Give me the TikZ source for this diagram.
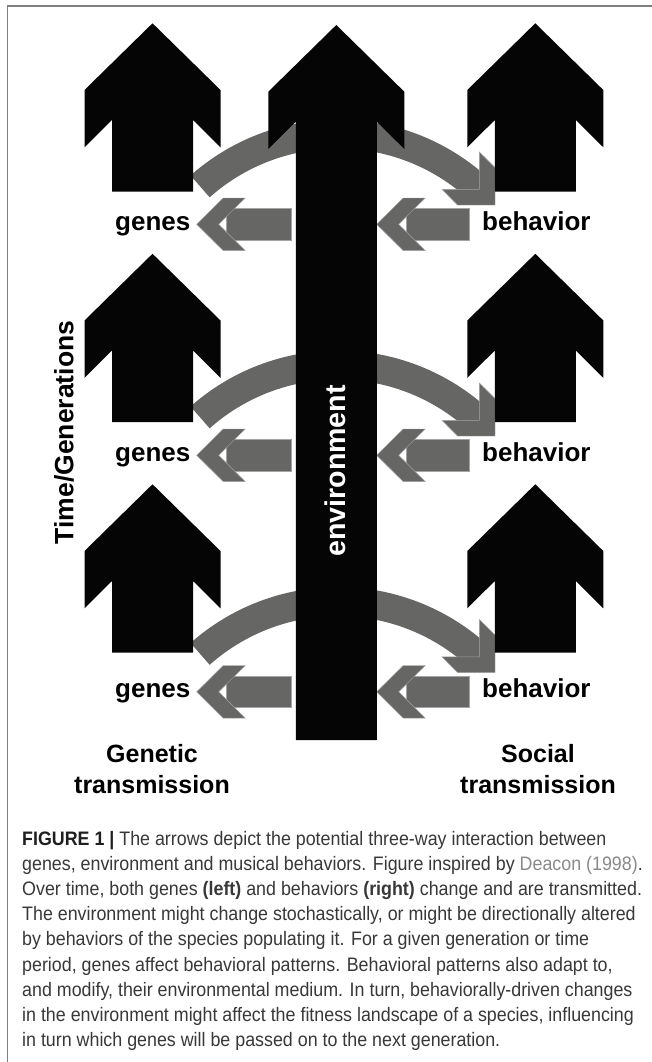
\documentclass[tikz,border=0pt]{standalone}
\usepackage{fontspec}
\setmainfont{Liberation Sans}
\newfontfamily\capfont[FakeStretch=0.915]{Liberation Sans}
\definecolor{arrowgray}{HTML}{666665}
\definecolor{edgegray}{HTML}{A4A4A4}
\definecolor{framegray}{HTML}{7F7F7F}
\definecolor{captext}{HTML}{383838}
\definecolor{linkgray}{HTML}{8A8A8A}
\definecolor{inkblack}{HTML}{050505}

% black upward block arrow: #1 name, #2 centre x, #3 tip y, #4 bottom y
\newcommand\blkarrow[4]{%
  \fill[blackfill] (#2,#3) coordinate (#1) -- ({#2+68},{#3+66.7}) -- ({#2+68},{#3+124})
    -- ({#2+40.5},{#3+96.7}) -- ({#2+40.5},#4) -- ({#2-40.5},#4) -- ({#2-40.5},{#3+96.7})
    -- ({#2-68},{#3+124}) -- ({#2-68},{#3+66.7}) -- cycle;}
% grey left-pointing arrow: #1 tip x, #2 centre y, #3 shaft end x
\newcommand\grayarr[3]{%
  \filldraw[grayfill] ({#1+30},{#2-15.8}) rectangle (#3,{#2+15.8});
  \filldraw[grayfill] (#1,#2) -- ({#1+26.5},{#2-26.3}) -- ({#1+48.5},{#2-26.3}) -- ({#1+22},#2)
    -- ({#1+48.5},{#2+26.3}) -- ({#1+26.5},{#2+26.3}) -- cycle;}
% grey curved arrow of one row: #1 vertical offset
\newcommand\curvarr[1]{%
  \draw[arrowgray, line width=29pt] plot[domain=131.6:45, samples=90, smooth]
    ({338+207.7*cos(\x)}, {341.7+#1-207.7*sin(\x)});
  \filldraw[grayfill] (495,{205+#1}) -- (457.5,{205+#1}) -- (442,{189.4+#1}) -- (479.4,{189.4+#1})
    -- (479.4,{152+#1}) -- (495,{167.5+#1}) -- cycle;}

\begin{document}
\begin{tikzpicture}[x=1pt,y=-1pt,
  blackfill/.style={fill=inkblack},
  grayfill/.style={fill=arrowgray, draw=edgegray, line width=0.45pt},
  lab/.style={font=\bfseries\fontsize{26}{30}\selectfont, inner sep=0pt, anchor=base},
  bottomlab/.style={font=\bfseries\fontsize{25}{30}\selectfont, inner sep=0pt, anchor=base},
  capline/.style={font=\capfont\fontsize{19.5}{25}\selectfont, text=captext, inner sep=0pt, anchor=base west}
]
\useasboundingbox[fill=white] (0,0) rectangle (652,1062);
\draw[framegray, line width=1.1pt] (7.3,1062) -- (7.3,6) -- (652,6);

% grey curved and straight arrows (behind the black ones)
\foreach \dy in {0,231,467.5}{
  \curvarr{\dy}
  \grayarr{196.7}{224.3+\dy}{291}
  \grayarr{376.7}{224.3+\dy}{469.3}
}

% black arrows
\blkarrow{gL1}{152.5}{23.3}{191.7}
\blkarrow{gR1}{535.3}{23.3}{191.7}
\blkarrow{gL2}{152.5}{253.8}{422.2}
\blkarrow{gR2}{535.3}{253.8}{422.2}
\blkarrow{gL3}{152.5}{484.3}{652.7}
\blkarrow{gR3}{535.3}{484.3}{652.7}
\blkarrow{envarrow}{336.3}{25}{740}

% labels
\node[lab] (genes1) at (152.8,230) {genes};
\node[lab] (beh1) at (536.4,230) {behavior};
\node[lab] (genes2) at (152.8,461) {genes};
\node[lab] (beh2) at (536.4,461) {behavior};
\node[lab] (genes3) at (152.8,697.5) {genes};
\node[lab] (beh3) at (536.4,697.5) {behavior};

\node[font=\bfseries\fontsize{26.5}{30}\selectfont, rotate=90, inner sep=0pt] (time) at (64,432.5) {Time/Generations};
\node[text=white, font=\bfseries\fontsize{28.6}{32}\selectfont, rotate=90, inner sep=0pt] (env) at (335,471) {environment};

\node[bottomlab] (gen1) at (152,762.5) {Genetic};
\node[bottomlab] (gen2) at (152,793.5) {transmission};
\node[bottomlab] (soc1) at (538,762.5) {Social};
\node[bottomlab] (soc2) at (538,793.5) {transmission};

% caption
\node[capline] (c1) at (22,845) {\textbf{\color{black!88}FIGURE 1 |} The arrows depict the potential three-way interaction between};
\node[capline] (c2) at (22,870.2) {genes, environment and musical behaviors. Figure inspired by {\color{linkgray}Deacon (1998)}.};
\node[capline] (c3) at (22,895.4) {Over time, both genes \textbf{(left)} and behaviors \textbf{(right)} change and are transmitted.};
\node[capline] (c4) at (22,920.6) {The environment might change stochastically, or might be directionally altered};
\node[capline] (c5) at (22,945.8) {by behaviors of the species populating it. For a given generation or time};
\node[capline] (c6) at (22,971) {period, genes affect behavioral patterns. Behavioral patterns also adapt to,};
\node[capline] (c7) at (22,996.2) {and modify, their environmental medium. In turn, behaviorally-driven changes};
\node[capline] (c8) at (22,1021.4) {in the environment might affect the fitness landscape of a species, influencing};
\node[capline] (c9) at (22,1046.6) {in turn which genes will be passed on to the next generation.};
\end{tikzpicture}
\end{document}
